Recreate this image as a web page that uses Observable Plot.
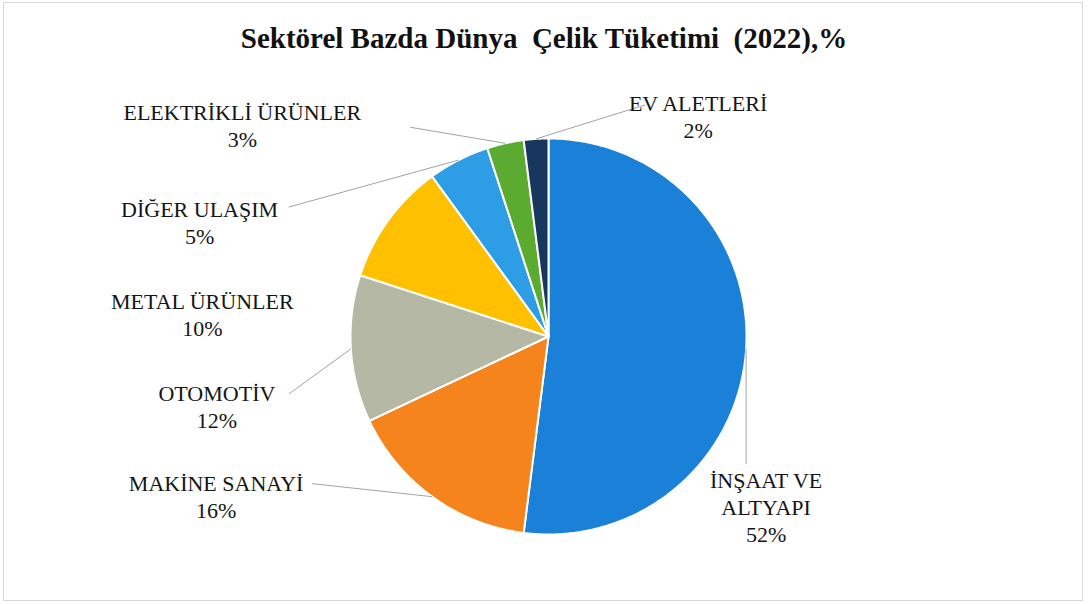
<!DOCTYPE html>
<html><head><meta charset="utf-8">
<script src="https://cdn.jsdelivr.net/npm/d3@7"></script>
<script src="https://cdn.jsdelivr.net/npm/@observablehq/plot@0.6"></script>
<style>
body{margin:0;background:#fff;}
#wrap{position:relative;width:1088px;height:604px;overflow:hidden;background:#fff;}
#title{height:64px;position:relative;}
#title span{position:absolute;left:0;right:0;top:24px;text-align:center;font:bold 29px "Liberation Serif",serif;line-height:29px;white-space:pre;color:#111;}
#frame{position:absolute;left:3px;top:2px;width:1078px;height:597px;border:1px solid #d8d8d8;pointer-events:none;}
#chart svg text, #chart svg tspan{font-family:"Liberation Serif","Times New Roman",serif;}
</style></head><body>
<div id="wrap">
  <div id="title"><span>Sektörel Bazda Dünya  Çelik Tüketimi  (2022),%</span></div>
  <div id="chart"></div>
  <div id="frame"></div>
</div>
<script>
// ---- data ----
const sectors = ["İNŞAAT VE ALTYAPI","MAKİNE SANAYİ","OTOMOTİV","METAL ÜRÜNLER","DİĞER ULAŞIM","ELEKTRİKLİ ÜRÜNLER","EV ALETLERİ"];
const labelNames = ["İNŞAAT VE\nALTYAPI","MAKİNE SANAYİ","OTOMOTİV","METAL ÜRÜNLER","DİĞER ULAŞIM","ELEKTRİKLİ ÜRÜNLER","EV ALETLERİ"];
const shares = [52,16,12,10,5,3,2];
const colors = ["#1b80d8","#f5841c","#b5b8a4","#ffc000","#2d9de6","#5aab2f","#17375e"];

// ---- layout (label placement relative to each slice's outer mid-point, px) ----
const labelDX = [20, -216, -134, -186, -259, -263, 162];
const labelDY = [157, -1, 57, 94, 62, -18, -23];
const leaderDX = [0, -120, -62, null, -170, -95, 109];
const leaderDY = [115, -13, 45, null, 47, -16, -34];

const W = 1088, H = 540;
const cx = 548, cy = 272; // pie centre in svg px
const R = 198;

const total = d3.sum(shares);
let acc = 0;
const slices = sectors.map((name, i) => {
  const a0 = acc / total * 2 * Math.PI;
  acc += shares[i];
  const a1 = acc / total * 2 * Math.PI;
  return {name, i, a0, a1, mid: (a0 + a1) / 2};
});

const pts = [];
for (const s of slices) {
  pts.push({name: s.name, x: 0, y: 0});
  const n = Math.max(2, Math.ceil((s.a1 - s.a0) / (Math.PI / 360)));
  for (let k = 0; k <= n; k++) {
    const a = s.a0 + (s.a1 - s.a0) * k / n;
    pts.push({name: s.name, x: R * Math.sin(a), y: -R * Math.cos(a)});
  }
  pts.push({name: s.name, x: 0, y: 0});
}

const labels = slices.map(s => {
  const ex = R * Math.sin(s.mid), ey = -R * Math.cos(s.mid);
  return {
    text: labelNames[s.i] + "\n" + shares[s.i] + "%",
    x: ex + labelDX[s.i], y: ey + labelDY[s.i],
    ex, ey,
    lx: leaderDX[s.i] == null ? null : ex + leaderDX[s.i],
    ly: leaderDY[s.i] == null ? null : ey + leaderDY[s.i]
  };
});
const leaders = labels.filter(d => d.lx != null);

const chart = Plot.plot({
  width: W, height: H,
  margin: 0,
  style: {fontFamily: "'Liberation Serif', serif"},
  x: {domain: [-cx, W - cx], axis: null},
  y: {domain: [H - cy, -cy], axis: null},
  color: {type: "ordinal", domain: sectors, range: colors},
  marks: [
    Plot.line(pts, {x: "x", y: "y", z: "name", fill: "name", stroke: "white", strokeWidth: 2, strokeLinejoin: "round", curve: "linear"}),
    Plot.link(leaders, {x1: "ex", y1: "ey", x2: "lx", y2: "ly", stroke: "#a3a3a3", strokeWidth: 1}),
    Plot.text(labels, {x: "x", y: "y", text: "text", fontSize: 22, fontFamily: "Liberation Serif", lineHeight: 1.23, fill: "#151515", textAnchor: "middle", lineAnchor: "middle"})
  ]
});
document.getElementById("chart").appendChild(chart);
</script>
</body></html>
